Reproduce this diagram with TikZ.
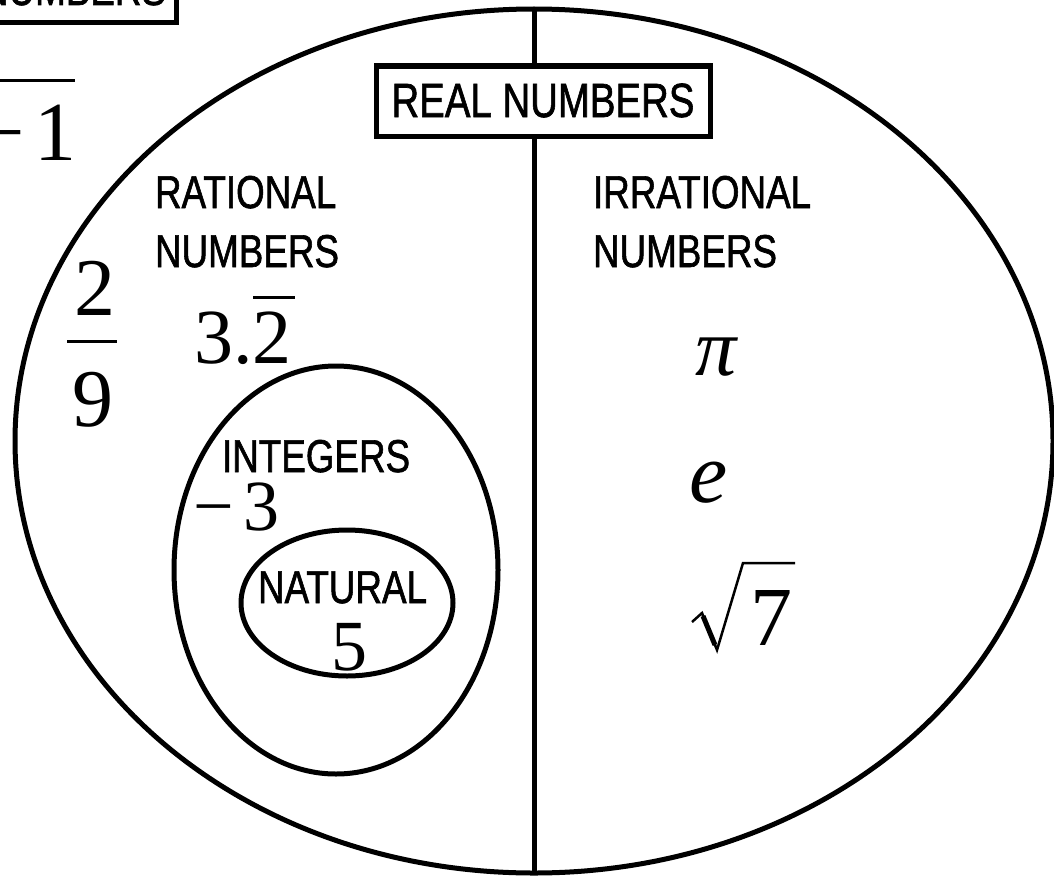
\documentclass[tikz,border=0pt]{standalone}
\usepackage{fontspec}
\usepackage{graphicx}
\usetikzlibrary{shapes.geometric}
\newfontfamily\numfont{Liberation Serif}
\newfontfamily\lblfont[FakeBold=1.5]{Liberation Sans}
\newcommand{\lbltext}[1]{\scalebox{0.8}[1]{#1}}
\begin{document}
\begin{tikzpicture}[x=1pt,y=-1pt,
  every node/.style={inner sep=0pt, outer sep=0pt},
  set/.style={draw, ellipse, line width=5pt},
  lbl/.style={font=\lblfont\fontsize{46}{59}\selectfont, anchor=base west},
  num/.style={font=\numfont\fontsize{82}{82}\selectfont, anchor=base},
  bar/.style={line width=3pt}]
\useasboundingbox (0,0) rectangle (1054,875);
% cropped box at top left
\node[draw, line width=5pt, minimum width=300pt, minimum height=100pt, anchor=south east] (cbox) at (176,23) {};
\node[lbl, anchor=base east] (ctext) at (166,5) {\lbltext{NUMBERS}};
% sqrt(-1) cropped
\node[num, font=\numfont\fontsize{84}{84}\selectfont] (one) at (55,160) {1};
\node[num, font=\numfont\fontsize{84}{84}\selectfont, anchor=base east] (minus) at (25,160) {−};
\coordinate (ovl) at (-5,80);
\coordinate (ovr) at (75,80);
\draw[bar] (ovl) -- (ovr);
% real numbers
\node[set, minimum width=1038pt, minimum height=864pt] (real) at (534,441) {};
\draw[line width=5pt] (real.north) -- (real.south);
\node[draw, fill=white, line width=5pt, minimum width=334pt, minimum height=70pt] (realbox) at (543,101) {};
\node[lbl, font=\lblfont\fontsize{48}{59}\selectfont, anchor=base] (realtext) at (543,117) {\lbltext{REAL NUMBERS}};
% rational
\node[lbl] (rat1) at (155,208) {\lbltext{RATIONAL}};
\node[lbl] (rat2) at (155,267) {\lbltext{NUMBERS}};
\node[lbl] (irr1) at (593,208) {\lbltext{IRRATIONAL}};
\node[lbl] (irr2) at (593,267) {\lbltext{NUMBERS}};
% 2/9
\node[num] (two) at (95,315) {2};
\node[num] (nine) at (93,426) {9};
\coordinate (fbl) at (67,341);
\coordinate (fbr) at (117,341);
\draw[bar] (fbl) -- (fbr);
% 3.2 repeating
\node[num, font=\numfont\fontsize{78}{78}\selectfont, anchor=base west] (rep) at (194,363) {3.2};
\coordinate (rbl) at (253,297);
\coordinate (rbr) at (295,297);
\draw[bar] (rbl) -- (rbr);
% integers
\node[set, minimum width=324pt, minimum height=408pt] (int) at (336,570) {};
\node[lbl] (inttext) at (222,472) {\lbltext{INTEGERS}};
\node[num, font=\numfont\fontsize{72}{72}\selectfont, anchor=base west] (mthree) at (193,530) {−\kern10pt 3};
% natural
\node[set, minimum width=212pt, minimum height=146pt] (nat) at (347,603) {};
\node[lbl] (nattext) at (258,603) {\lbltext{NATURAL}};
\node[num, font=\numfont\fontsize{72}{72}\selectfont] (five) at (349,670) {5};
% irrationals
\node[num, font=\numfont\itshape\fontsize{82}{82}\selectfont] (pi) at (716,375) {π};
\node[num, font=\numfont\itshape\fontsize{86}{86}\selectfont] (e) at (709,502) {e};
\node[num, font=\numfont\fontsize{84}{84}\selectfont] (seven) at (771,645) {7};
\coordinate (r1) at (692,622);
\coordinate (r2) at (702,613);
\coordinate (r3) at (717,650);
\coordinate (r4) at (743,563);
\coordinate (r5) at (795,563);
\draw[line width=2.5pt, line join=miter] (r1) -- (r2) -- (r3) -- (r4) -- (r5);
\draw[line width=5pt] (703,616) -- (715,645);
\end{tikzpicture}
\end{document}
